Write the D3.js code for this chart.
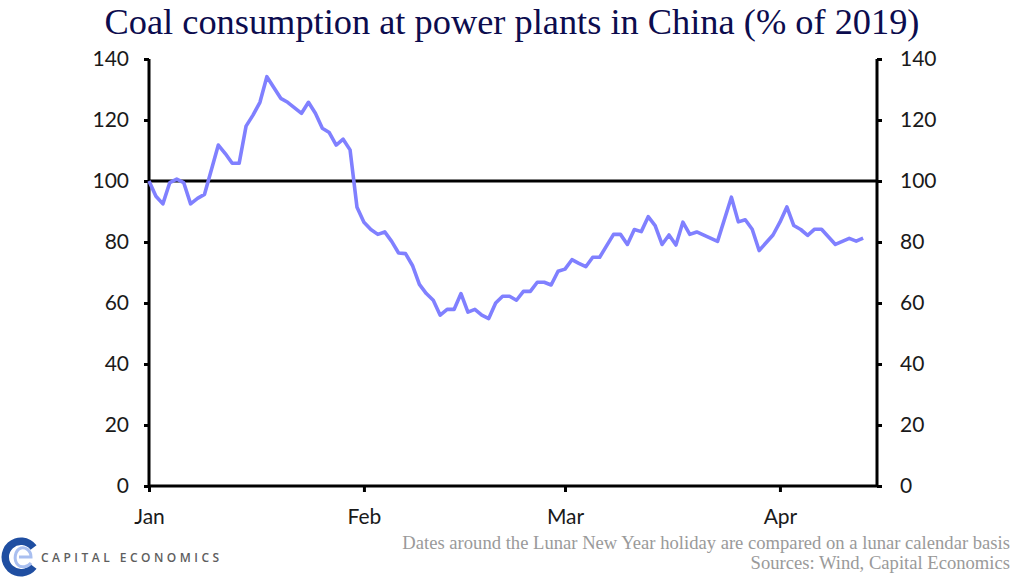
<!DOCTYPE html>
<html>
<head>
<meta charset="utf-8">
<script src="https://cdn.jsdelivr.net/npm/d3@7"></script>
<style>
  html, body { margin: 0; padding: 0; background: #fff; }
  svg { display: block; }
</style>
</head>
<body>
<svg id="chart" width="1024" height="583"></svg>
<script>
// Coal consumption at power plants in China, % of 2019 (vertices)
const dates = [
  '2020-01-01','2020-01-02','2020-01-03','2020-01-04','2020-01-05','2020-01-06','2020-01-07','2020-01-08','2020-01-09',
  '2020-01-11','2020-01-12','2020-01-13','2020-01-14','2020-01-15','2020-01-16','2020-01-17','2020-01-18',
  '2020-01-20','2020-01-21','2020-01-23','2020-01-24','2020-01-25','2020-01-26','2020-01-27','2020-01-28',
  '2020-01-29','2020-01-30','2020-01-31',
  '2020-02-01','2020-02-02','2020-02-03','2020-02-04','2020-02-05','2020-02-06','2020-02-07','2020-02-08',
  '2020-02-09','2020-02-10','2020-02-11','2020-02-12','2020-02-13','2020-02-14','2020-02-15','2020-02-16',
  '2020-02-17','2020-02-18','2020-02-19','2020-02-20','2020-02-21','2020-02-22','2020-02-23','2020-02-24',
  '2020-02-25','2020-02-26','2020-02-27','2020-02-28','2020-02-29',
  '2020-03-01','2020-03-02','2020-03-03','2020-03-04','2020-03-05','2020-03-06','2020-03-08','2020-03-09',
  '2020-03-10','2020-03-11','2020-03-12','2020-03-13','2020-03-14','2020-03-15','2020-03-16','2020-03-17',
  '2020-03-18','2020-03-19','2020-03-20','2020-03-23','2020-03-25','2020-03-26','2020-03-27','2020-03-28',
  '2020-03-29','2020-03-31',
  '2020-04-01','2020-04-02','2020-04-03','2020-04-04','2020-04-05','2020-04-06','2020-04-07','2020-04-09',
  '2020-04-11','2020-04-12','2020-04-13'
];
const values = [
  100, 95, 92.5, 99.5, 100.6, 99.5, 92.5, 94.3, 95.6,
  111.8, 109, 105.8, 105.8, 118, 121.6, 125.8, 134.2,
  127.1, 125.8, 122.2, 125.8, 122.2, 117.3, 115.9, 111.8,
  113.7, 110.2, 91.4,
  86.5, 84.1, 82.5, 83.3, 80.2, 76.4, 76.2, 72.3,
  66.1, 63.1, 60.9, 56, 57.9, 57.9, 63.1, 57,
  57.9, 56, 54.9, 60, 62.2, 62.2, 60.9, 63.8,
  63.8, 66.8, 66.8, 65.9, 70.4,
  71.1, 74.2, 73, 71.9, 75, 75, 82.5, 82.5,
  79.2, 84.1, 83.4, 88.3, 85.4, 79.2, 82.3, 79,
  86.5, 82.5, 83.3, 80.2, 94.7, 86.6, 87.3, 84.2,
  77.2, 82.3,
  86.5, 91.5, 85.4, 84.1, 82.2, 84.2, 84.2, 79.2,
  81.2, 80.3, 81.3
];
const yTicks = [0, 20, 40, 60, 80, 100, 120, 140];
const monthTicks = ['2020-01-01', '2020-02-01', '2020-03-01', '2020-04-01'];
const xDomain = ['2020-01-01', '2020-04-15'];
const yDomain = [0, 140];
const refLine = 100;

const titleText = 'Coal consumption at power plants in China (% of 2019)';
const noteText = 'Dates around the Lunar New Year holiday are compared on a lunar calendar basis';
const sourceText = 'Sources: Wind, Capital Economics';

const parse = d3.utcParse('%Y-%m-%d');
const data = dates.map((d, i) => ({ date: parse(d), value: values[i] }));

const svg = d3.select('#chart');
const L = 149, R = 877, T = 59, B = 486;
const ink = '#000', lineCol = '#8080ff';
const sansFont = 'Lato, "Open Sans", sans-serif';
const serifFont = '"Liberation Serif", "DejaVu Serif", serif';

const x = d3.scaleUtc().domain(xDomain.map(parse)).range([L, R]);
const y = d3.scaleLinear().domain(yDomain).range([B, T]);

// fit a text element to a given width by scaling its font size
function fitWidth(sel, base, w) {
  const tw = sel.node().getComputedTextLength();
  sel.attr('font-size', base * w / tw);
}

// title
const title = svg.append('text')
  .attr('x', 512).attr('y', 34).attr('text-anchor', 'middle')
  .attr('font-family', serifFont).attr('font-size', 30)
  .attr('fill', '#0c0c4e').text(titleText);
fitWidth(title, 30, 815);

// axes
const axL = svg.append('g').attr('transform', `translate(${L},0)`)
  .call(d3.axisLeft(y).tickValues(yTicks).tickSize(5).tickPadding(15));
const axR = svg.append('g').attr('transform', `translate(${R},0)`)
  .call(d3.axisRight(y).tickValues(yTicks).tickSize(5).tickPadding(18));
const axB = svg.append('g').attr('transform', `translate(0,${B})`)
  .call(d3.axisBottom(x).tickValues(monthTicks.map(parse))
    .tickFormat(d3.utcFormat('%b')).tickSize(6).tickPadding(17));

[axL, axR, axB].forEach(g => {
  g.select('.domain').attr('stroke', ink).attr('stroke-width', 3);
  g.selectAll('.tick line').attr('stroke', ink).attr('stroke-width', 3);
  g.selectAll('.tick text').attr('fill', '#1a1a1a')
    .attr('font-family', sansFont).attr('font-size', 21);
});
axL.select('.domain').attr('d', `M0,${B}V${T}`);
axR.select('.domain').attr('d', `M0,${B}V${T}`);
axB.select('.domain').attr('d', `M${L},0H${R}`);

// 100 reference line
svg.append('line')
  .attr('x1', L).attr('x2', R).attr('y1', y(refLine)).attr('y2', y(refLine))
  .attr('stroke', ink).attr('stroke-width', 3);

// series
svg.append('path').datum(data)
  .attr('fill', 'none').attr('stroke', lineCol).attr('stroke-width', 3.6)
  .attr('stroke-linejoin', 'round')
  .attr('d', d3.line().x(d => x(d.date)).y(d => y(d.value)));

// footer notes
const note = svg.append('text').attr('x', 1010).attr('y', 549).attr('text-anchor', 'end')
  .attr('font-family', serifFont).attr('font-size', 15).attr('fill', '#9a9a9a')
  .text(noteText);
fitWidth(note, 15, 608);
svg.append('text').attr('x', 1010).attr('y', 569).attr('text-anchor', 'end')
  .attr('font-family', serifFont).attr('font-size', note.attr('font-size')).attr('fill', '#9a9a9a')
  .text(sourceText);

// logo: dark-blue C ring with a light-blue e inside
const logo = svg.append('g').attr('transform', 'translate(21,557)');
logo.append('path')
  .attr('d', d3.arc()({ innerRadius: 12, outerRadius: 19.5, startAngle: 0.65, endAngle: 2 * Math.PI - 0.65 }))
  .attr('transform', 'rotate(90)')
  .attr('fill', '#1f4ea1');
logo.append('path')
  .attr('d', 'M-2,0 H10 C10,-7 4,-10 0,-9 C-6,-7 -8,3 -3,8 C0,11 7,10 10,6')
  .attr('fill', 'none').attr('stroke', '#a9bff0').attr('stroke-width', 3);
svg.append('text').attr('x', 41).attr('y', 562)
  .attr('font-family', '"Open Sans", sans-serif').attr('font-size', 12)
  .attr('font-weight', 600).attr('letter-spacing', '0.29em').attr('fill', '#5e5e5e')
  .text('CAPITAL ECONOMICS');
</script>
</body>
</html>
